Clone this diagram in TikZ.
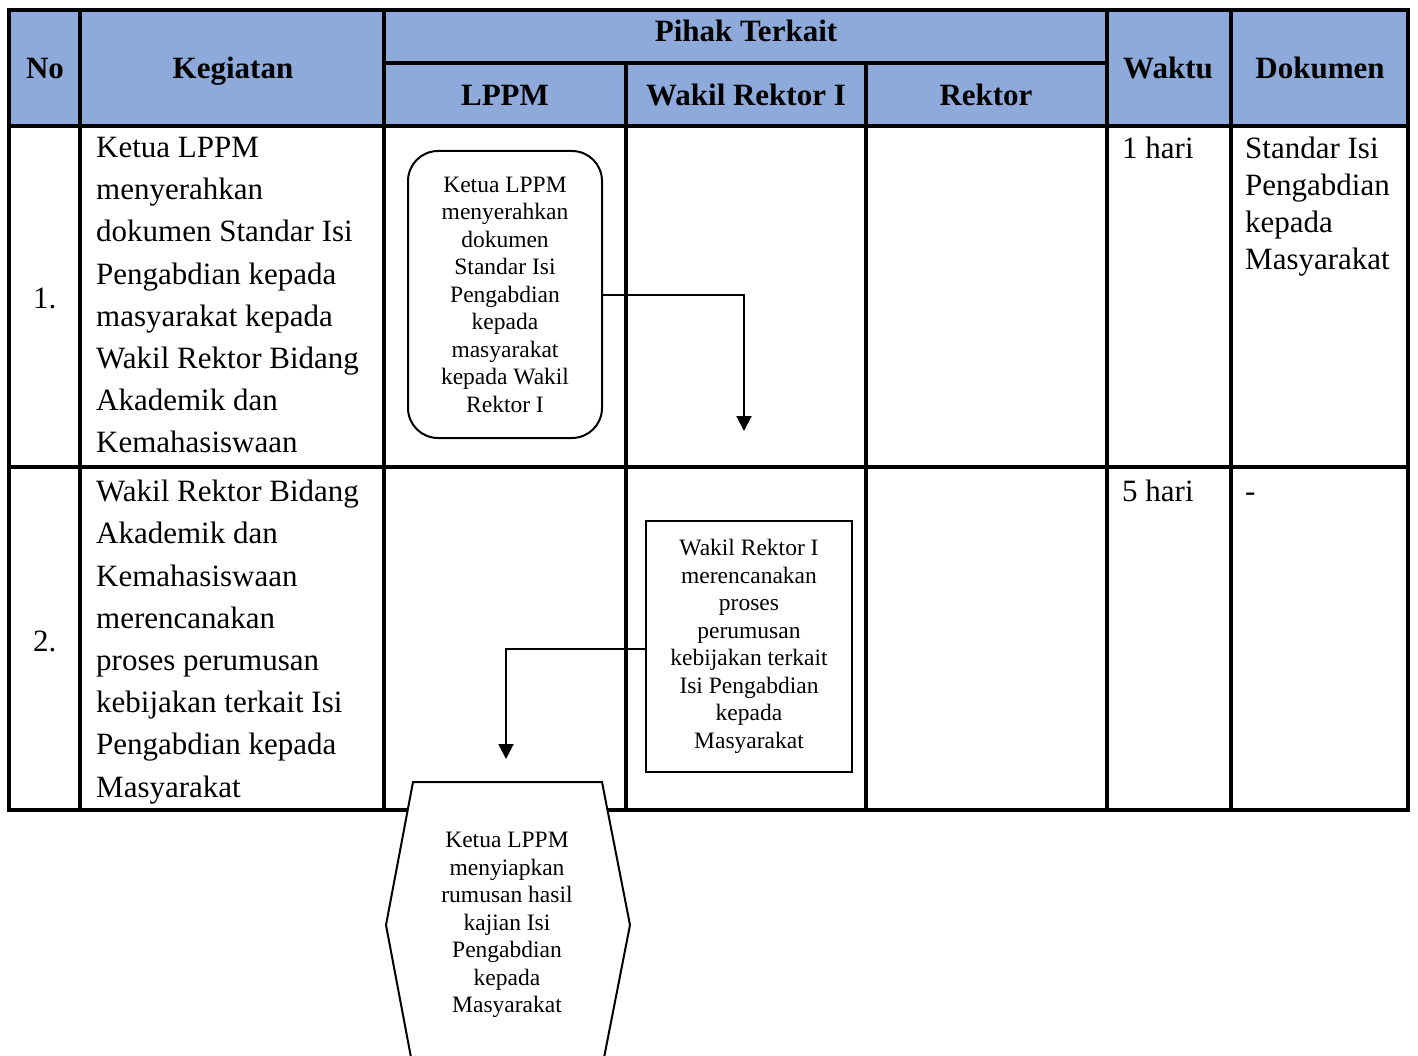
\documentclass[tikz,border=0pt]{standalone}
\usepackage{fontspec}
\setmainfont{Liberation Serif}
\usetikzlibrary{arrows.meta}
\definecolor{hdrblue}{RGB}{142,170,219}
\begin{document}
\begin{tikzpicture}[x=1pt,y=-1pt,
  grid/.style={line width=4.5pt},
  hdr/.style={font=\fontsize{31}{36}\selectfont\bfseries, inner sep=0pt, anchor=base},
  body/.style={font=\fontsize{31}{42.2}\selectfont, align=left, inner sep=0pt, anchor=north west},
  doc/.style={font=\fontsize{31}{36.8}\selectfont, align=left, inner sep=0pt, anchor=north west},
  flow/.style={font=\fontsize{23.5}{27.5}\selectfont, align=center, inner sep=0pt},
  shapeline/.style={line width=2pt},
  conn/.style={line width=2pt, -{Triangle[width=15pt,length=15pt]}},
]
\useasboundingbox (0,0) rectangle (1418,1056);

% header band
\fill[hdrblue] (9,10) rectangle (1408,126);

% table rules
\draw[grid] (9,10) rectangle (1408,810);
\draw[grid] (9,126) -- (1408,126);
\draw[grid] (9,467) -- (1408,467);
\draw[grid] (384,63) -- (1107,63);
\foreach \x in {80,384,1107,1231} \draw[grid] (\x,10) -- (\x,810);
\foreach \x in {626,866} \draw[grid] (\x,63) -- (\x,810);

% header texts
\node[hdr] (hNo) at (45,79) {No};
\node[hdr] (hKeg) at (233,79) {Kegiatan};
\node[hdr] (hPihak) at (746,42) {Pihak Terkait};
\node[hdr] (hLppm) at (505,106) {LPPM};
\node[hdr] (hWr) at (746,106) {Wakil Rektor I};
\node[hdr] (hRek) at (986,106) {Rektor};
\node[hdr] (hWaktu) at (1168,79) {Waktu};
\node[hdr] (hDok) at (1320,79) {Dokumen};

% row 1
\node[font=\fontsize{31}{36}\selectfont, inner sep=0pt, anchor=west] (n1) at (33,298) {1.};
\node[body] (k1) at (96,137) {Ketua LPPM\\menyerahkan\\dokumen Standar Isi\\Pengabdian kepada\\masyarakat kepada\\Wakil Rektor Bidang\\Akademik dan\\Kemahasiswaan};
\node[body] (w1) at (1122,137) {1 hari};
\node[doc] (d1) at (1245,137) {Standar Isi\\Pengabdian\\kepada\\Masyarakat};

% row 2
\node[font=\fontsize{31}{36}\selectfont, inner sep=0pt, anchor=west] (n2) at (33,641) {2.};
\node[body] (k2) at (96,480) {Wakil Rektor Bidang\\Akademik dan\\Kemahasiswaan\\merencanakan\\proses perumusan\\kebijakan terkait Isi\\Pengabdian kepada\\Masyarakat};
\node[body] (w2) at (1122,480) {5 hari};
\node[doc] (d2) at (1245,480) {\vphantom{Ph}-};

% flow: step 1 (LPPM)
\node[flow, draw, shapeline, rounded corners=30pt, minimum width=194pt, minimum height=287pt] (b1) at (505,294.5)
  {Ketua LPPM\\menyerahkan\\dokumen\\Standar Isi\\Pengabdian\\kepada\\masyarakat\\kepada Wakil\\Rektor I};
\coordinate (e1) at (744,431);
\draw[conn] ([yshift=-0.5pt]b1.east) -| (e1);

% flow: step 2 (Wakil Rektor I)
\node[flow, draw, shapeline, minimum width=206pt, minimum height=251pt] (b2) at (749,646.5)
  {Wakil Rektor I\\merencanakan\\proses\\perumusan\\kebijakan terkait\\Isi Pengabdian\\kepada\\Masyarakat};
\coordinate (e2) at (506,759);
\draw[conn] ([yshift=-2.5pt]b2.west) -| (e2);

% flow: step 3 (LPPM, continues below)
\draw[shapeline, fill=white] (413,782) -- (602,782) -- (630,925) -- (602,1068) -- (413,1068) -- (386,925) -- cycle;
\node[flow] (b3) at (507,925)
  {Ketua LPPM\\menyiapkan\\rumusan hasil\\kajian Isi\\Pengabdian\\kepada\\Masyarakat};
\end{tikzpicture}
\end{document}
